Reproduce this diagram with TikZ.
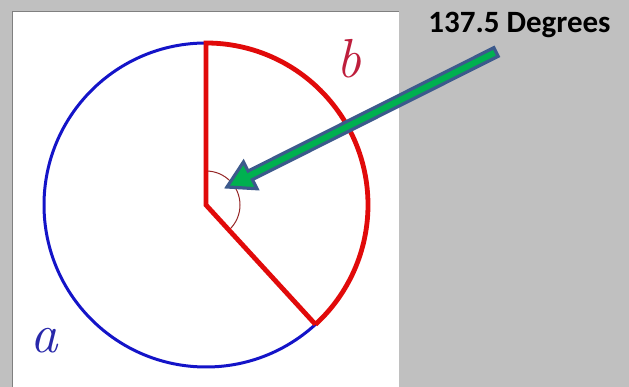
\documentclass[tikz,border=0pt]{standalone}
\usepackage{fontspec}
\usetikzlibrary{calc}
\newfontfamily\calib{Carlito}
\definecolor{paper}{RGB}{192,192,192}
\definecolor{frameline}{RGB}{128,128,128}
\definecolor{arcblue}{RGB}{20,20,200}
\definecolor{arcred}{RGB}{225,10,10}
\definecolor{anglered}{RGB}{150,40,40}
\definecolor{letterblue}{RGB}{40,40,170}
\definecolor{letterred}{RGB}{190,30,60}
\definecolor{arrowedge}{RGB}{60,90,140}
\definecolor{arrowfill}{RGB}{0,176,80}

\begin{document}
\begin{tikzpicture}[x=1pt,y=1pt,sector/.style={draw=arcred,line width=4.8pt,line join=miter},rim/.style={draw=arcblue,line width=3pt},blockarrow/.style={draw=arrowedge,fill=arrowfill,line width=3.2pt,line join=miter,miter limit=10},letter/.style={font=\fontsize{55}{58}\selectfont\itshape}]
\useasboundingbox (0,0) rectangle (629,387);
\fill[paper] (0,0) rectangle (629,387);
\fill[white] (12.5,0) rectangle (399,375.5);
\draw[frameline,line width=1.5pt] (12.5,0) -- (12.5,375.5) -- (399,375.5);
% circle and sector
\coordinate (O) at (206,182);
\coordinate (top) at ($(O)+(90:162)$);
\coordinate (end) at ($(O)+(-47.5:162)$);
\draw[rim] (O) circle[radius=162];
\draw[draw=anglered,line width=1pt] ($(O)+(90:34)$) arc[start angle=90,end angle=-47.5,radius=34];
\draw[sector] (end) -- (O) -- (top) arc[start angle=90,end angle=-47.5,radius=162];
\node[letter,text=letterred] (b) at (349,328) {b};
\node[letter,text=letterblue] (a) at (44,46) {a};
% label and arrow
\node[font=\calib\bfseries\fontsize{31}{34}\selectfont,anchor=base] (lbl) at (519.5,354) {137.5 Degrees};
\coordinate (tail) at (496,335);
\coordinate (tip) at (227,200);
\coordinate (hb) at ($(tip)!26pt!(tail)$);
\draw[blockarrow] (tip) -- ($(hb)!15pt!90:(tail)$) -- ($(hb)!4.8pt!90:(tail)$) -- ($(tail)!4.8pt!-90:(hb)$) -- ($(tail)!4.8pt!90:(hb)$) -- ($(hb)!4.8pt!-90:(tail)$) -- ($(hb)!15pt!-90:(tail)$) -- cycle;
\end{tikzpicture}
\end{document}
